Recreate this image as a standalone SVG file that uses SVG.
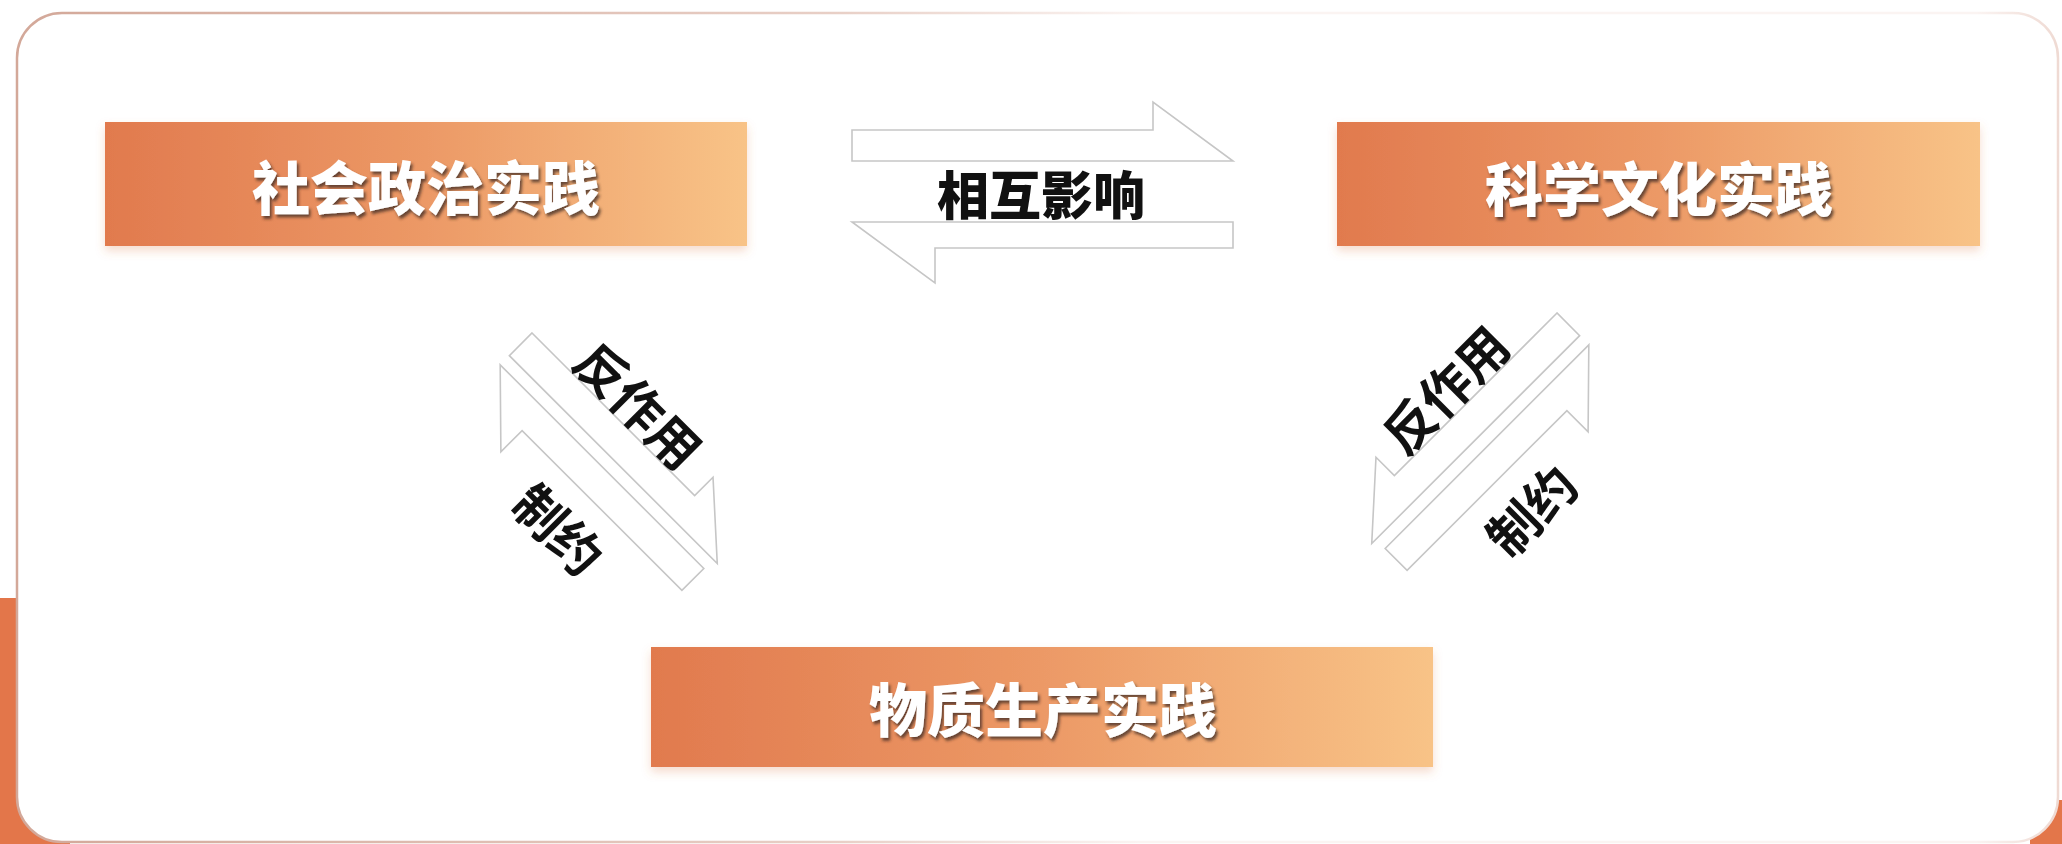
<svg xmlns="http://www.w3.org/2000/svg" width="2062" height="844" viewBox="0 0 2062 844">
  <defs>
    <linearGradient id="boxGrad" x1="0" y1="0" x2="1" y2="0">
      <stop offset="0" stop-color="#E17A4E"/>
      <stop offset="0.5" stop-color="#EC9966"/>
      <stop offset="1" stop-color="#F8C387"/>
    </linearGradient>
    <linearGradient id="frameGrad" x1="0" y1="0" x2="1" y2="0">
      <stop offset="0" stop-color="#d3a899"/>
      <stop offset="0.4" stop-color="#e8cfc6"/>
      <stop offset="0.55" stop-color="#fbf4f2"/>
      <stop offset="0.96" stop-color="#fbf4f2"/>
      <stop offset="1" stop-color="#efdad3"/>
    </linearGradient>
    <filter id="boxShadow" x="-5%" y="-20%" width="110%" height="150%">
      <feDropShadow dx="0" dy="5" stdDeviation="5" flood-color="#d9753f" flood-opacity="0.25"/>
    </filter>
    <filter id="textShadow" x="-10%" y="-20%" width="120%" height="150%">
      <feDropShadow dx="2" dy="3" stdDeviation="1.5" flood-color="#3a2a22" flood-opacity="0.75"/>
    </filter>
  </defs>
  <style>
    .box { fill: url(#boxGrad); filter: url(#boxShadow); }
    .boxText { font-family: "Noto Sans CJK SC", "Liberation Sans", sans-serif; font-weight: 900; font-size: 58px; fill: #ffffff; text-anchor: middle; dominant-baseline: central; filter: url(#textShadow); }
    .arrow { fill: #ffffff; stroke: #c6c6c6; stroke-width: 1.6; stroke-linejoin: miter; }
    .lbl { font-family: "Noto Sans CJK SC", "Liberation Sans", sans-serif; font-weight: 700; fill: #111111; text-anchor: middle; dominant-baseline: central; }
    .lblHeavy { font-weight: 900; }
  </style>

  <rect x="0" y="0" width="2062" height="844" fill="#ffffff"/>
  <!-- orange corner decorations behind the card -->
  <rect x="0" y="598" width="70" height="246" fill="#E3764A"/>
  <rect x="2030" y="800" width="32" height="44" fill="#E3764A"/>
  <!-- card frame -->
  <rect x="17" y="13" width="2041" height="829" rx="45" ry="45" fill="#ffffff" stroke="url(#frameGrad)" stroke-width="2.5"/>

  <g id="node-social">
    <rect class="box" x="105" y="122" width="642" height="124"/>
    <text class="boxText" x="426" y="185">社会政治实践</text>
  </g>
  <g id="node-science">
    <rect class="box" x="1337" y="122" width="643" height="124"/>
    <text class="boxText" x="1659" y="186">科学文化实践</text>
  </g>
  <g id="node-material">
    <rect class="box" x="651" y="647" width="782" height="120"/>
    <text class="boxText" x="1043" y="707">物质生产实践</text>
  </g>

  <g id="connectors">
    <!-- top pair: mutual influence -->
    <polygon class="arrow" points="852,130 1153,130 1153,102 1233,161 852,161"/>
    <polygon class="arrow" points="852,222 1233,222 1233,248 935,248 935,283"/>
    <text class="lbl lblHeavy" x="1041" y="192" font-size="52">相互影响</text>

    <!-- left pair -->
    <g transform="translate(532,333) rotate(45)">
      <polygon class="arrow" points="0,0 230,0 230,-26 294,32 0,32"/>
      <polygon class="arrow" points="0,45 288,45 288,76 62,76 62,106"/>
    </g>
    <text class="lbl" font-size="51" transform="translate(640,404) rotate(45)">反作用</text>
    <text class="lbl" font-size="51" transform="translate(560,528) rotate(45)">制约</text>

    <!-- right pair (mirror) -->
    <g transform="translate(2089,-20) scale(-1,1) translate(532,333) rotate(45)">
      <polygon class="arrow" points="0,0 230,0 230,-26 294,32 0,32"/>
      <polygon class="arrow" points="0,45 288,45 288,76 62,76 62,106"/>
    </g>
    <text class="lbl" font-size="51" transform="translate(1444,388) rotate(-45)">反作用</text>
    <text class="lbl" font-size="51" transform="translate(1530,509) rotate(-45)">制约</text>
  </g>
</svg>
